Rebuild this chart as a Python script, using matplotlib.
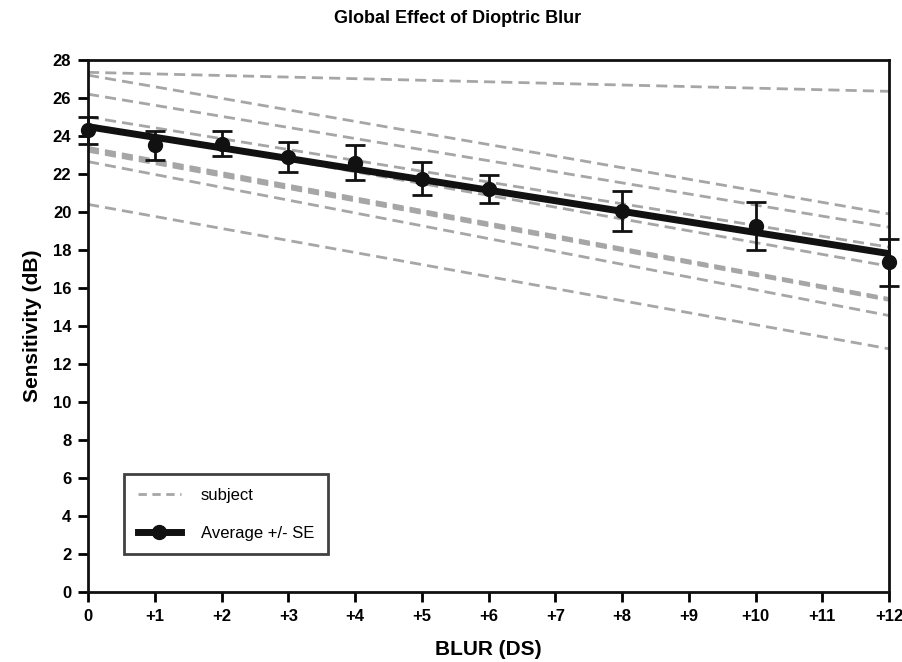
import numpy as np
import matplotlib
matplotlib.use("Agg")
import matplotlib.pyplot as plt

plt.rcParams['font.family'] = ['Liberation Sans', 'DejaVu Sans']

# blur levels (DS) and tick labels
blur_ticks = np.arange(0, 13)
blur_labels = ['0'] + ['+%d' % i for i in range(1, 13)]

# per-subject regression lines: sensitivity at 0 DS and at +12 DS
subj_start = [27.35, 27.2, 26.2, 25.0, 24.6, 23.4, 23.3, 23.2, 22.65, 20.4]
subj_end = [26.35, 19.9, 19.2, 18.15, 17.15, 15.45, 15.4, 15.35, 14.55, 12.8]

# group average +/- SE
avg_blur = [0, 1, 2, 3, 4, 5, 6, 8, 10, 12]
avg_sens = [24.3, 23.5, 23.6, 22.9, 22.6, 21.75, 21.2, 20.05, 19.25, 17.35]
avg_se = [0.7, 0.76, 0.66, 0.79, 0.9, 0.88, 0.73, 1.05, 1.27, 1.22]

fig = plt.figure(figsize=(9.02, 6.62), dpi=100)
ax = fig.add_axes([0.0976, 0.1057, 0.888, 0.8037])

grey = '#a6a6a6'
for s0, s1 in zip(subj_start, subj_end):
    ax.plot([0, 12], [s0, s1], color=grey, lw=2, dashes=(4, 2.2), zorder=2)

# regression through the average
coef = np.polyfit(avg_blur, avg_sens, 1)
xx = np.array([0, 12])
ax.plot(xx, np.polyval(coef, xx), color='#111111', lw=5, zorder=4,
        solid_capstyle='butt')

ax.errorbar(avg_blur, avg_sens, yerr=avg_se, fmt='o', color='#111111',
            ms=10, elinewidth=2, capsize=7, capthick=2, zorder=5, clip_on=False)

ax.set_xlim(0, 12)
ax.set_ylim(0, 28)
ax.set_xticks(blur_ticks)
ax.set_xticklabels(blur_labels)
ax.set_yticks(np.arange(0, 29, 2))
for lab in ax.get_xticklabels() + ax.get_yticklabels():
    lab.set_fontweight('bold')
    lab.set_fontsize(12)
ax.tick_params(direction='out', length=7, width=2, pad=5)
for sp in ax.spines.values():
    sp.set_linewidth(2)
    sp.set_color('#111111')

ax.set_xlabel('BLUR (DS)', fontsize=15, fontweight='bold', labelpad=12)
ax.set_ylabel('Sensitivity (dB)', fontsize=15, fontweight='bold', labelpad=8)
fig.suptitle('Global Effect of Dioptric Blur', fontsize=13, fontweight='bold',
             x=0.507, y=0.985)

h1, = ax.plot([], [], color=grey, lw=2, dashes=(3, 2))
h2, = ax.plot([], [], color='#111111', lw=5, marker='o', ms=10)
leg = ax.legend([h1, h2], ['subject', 'Average +/- SE'], loc='lower left',
                bbox_to_anchor=(0.035, 0.055), fontsize=12, frameon=True,
                fancybox=False, edgecolor='#111111', handlelength=2.6,
                borderpad=0.8, labelspacing=1.4, handletextpad=1.2)
leg.get_frame().set_linewidth(2)

fig.savefig('out.png', dpi=100)
